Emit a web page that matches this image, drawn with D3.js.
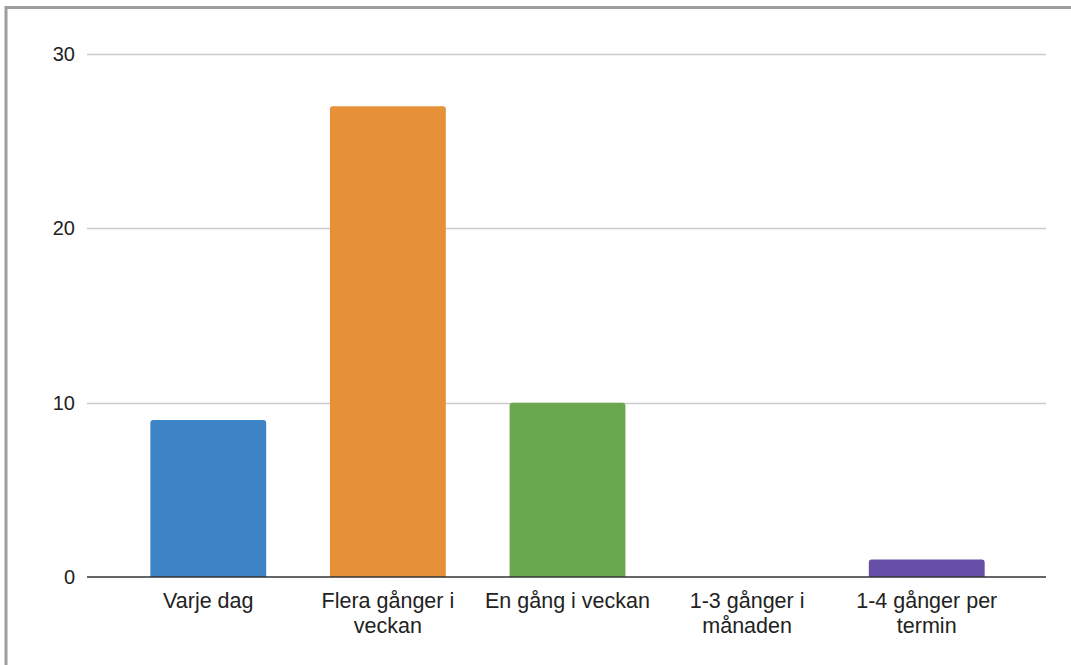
<!DOCTYPE html>
<html>
<head>
<meta charset="utf-8">
<script src="https://cdn.jsdelivr.net/npm/d3@7"></script>
<style>
  html, body { margin: 0; padding: 0; background: #fff; }
  svg { display: block; font-family: "Liberation Sans", Arial, sans-serif; }
</style>
</head>
<body>
<div id="chart"></div>
<script>
// data
const categories = ["Varje dag", "Flera gånger i veckan", "En gång i veckan", "1-3 gånger i månaden", "1-4 gånger per termin"];
const labelLines = [["Varje dag"], ["Flera gånger i", "veckan"], ["En gång i veckan"], ["1-3 gånger i", "månaden"], ["1-4 gånger per", "termin"]];
const values = [9, 27, 10, 0, 1];
const barColors = ["#3d85c6", "#e69138", "#6aa84f", "#b45f06", "#674ea7"];
const yTicks = [0, 10, 20, 30];

const width = 1071, height = 665;

let svg = d3.select("#chart").append("svg")
    .attr("width", width)
    .attr("height", height);

// frame (only left and top edges show in the picture)
svg.append("path")
    .attr("d", "M6,665 V7.5 H1071")
    .attr("fill", "none")
    .attr("stroke", "#9e9e9e")
    .attr("stroke-width", 3);

// scales
let x = d3.scaleBand()
    .domain(categories)
    .range([118, 1017])
    .paddingInner(0.355)
    .paddingOuter(0.18);

let y = d3.scaleLinear()
    .domain([0, 30])
    .range([577, 54]);

let gridLeft = 87, gridRight = 1046;

// gridlines
svg.append("g").selectAll("line")
    .data(yTicks.filter(d => d !== 0))
    .enter()
    .append("line")
    .attr("x1", gridLeft)
    .attr("x2", gridRight)
    .attr("y1", d => Math.round(y(d)) + 0.5)
    .attr("y2", d => Math.round(y(d)) + 0.5)
    .attr("stroke", "#cccccc")
    .attr("stroke-width", 1.5);

// y tick labels
svg.append("g").selectAll("text")
    .data(yTicks)
    .enter()
    .append("text")
    .attr("x", 75)
    .attr("y", d => y(d))
    .attr("dy", "0.35em")
    .attr("text-anchor", "end")
    .attr("font-size", "20px")
    .attr("fill", "#222")
    .text(d => d);

// bars with rounded top corners
let r = 3;
function barPath(x0, w, top, bottom) {
    let h = bottom - top;
    if (h <= 0) return "";
    let rr = Math.min(r, h);
    return "M" + x0 + "," + bottom +
        "V" + (top + rr) +
        "Q" + x0 + "," + top + " " + (x0 + rr) + "," + top +
        "H" + (x0 + w - rr) +
        "Q" + (x0 + w) + "," + top + " " + (x0 + w) + "," + (top + rr) +
        "V" + bottom + "Z";
}

svg.append("g").selectAll("path")
    .data(values)
    .enter()
    .append("path")
    .attr("d", (d, i) => barPath(x(categories[i]), x.bandwidth(), y(d), y(0)))
    .attr("fill", (d, i) => barColors[i]);

// baseline
svg.append("line")
    .attr("x1", gridLeft)
    .attr("x2", gridRight)
    .attr("y1", y(0))
    .attr("y2", y(0))
    .attr("stroke", "#333333")
    .attr("stroke-width", 1.5);

// category labels
let lab = svg.append("g").selectAll("text")
    .data(categories)
    .enter()
    .append("text")
    .attr("x", d => x(d) + x.bandwidth() / 2)
    .attr("y", 608)
    .attr("text-anchor", "middle")
    .attr("font-size", "21.5px")
    .attr("fill", "#222");

lab.each(function (d, i) {
    let t = d3.select(this);
    labelLines[i].forEach((line, k) => {
        t.append("tspan")
            .attr("x", x(d) + x.bandwidth() / 2)
            .attr("dy", k === 0 ? 0 : 25)
            .text(line);
    });
});
</script>
</body>
</html>
